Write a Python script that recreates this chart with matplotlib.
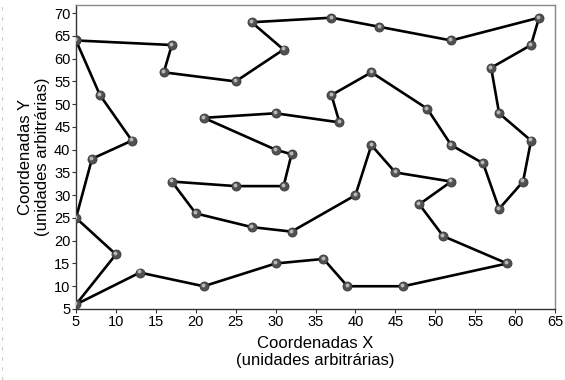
import matplotlib
matplotlib.use("Agg")
import matplotlib.pyplot as plt
import matplotlib.transforms as mtransforms
from matplotlib.lines import Line2D

plt.rcParams['font.family'] = ['Liberation Sans', 'DejaVu Sans']

# Tour through the cities, in visiting order (closed loop)
x_coords = [5, 17, 16, 25, 31, 27, 37, 43, 52, 63, 62, 57, 58, 62, 61, 58, 56, 52, 49, 42,
            37, 38, 30, 21, 30, 32, 31, 25, 17, 20, 27, 32, 40, 42, 45, 52, 48, 51, 59, 46,
            39, 36, 30, 21, 13, 5, 10, 5, 7, 12, 8, 5]
y_coords = [64, 63, 57, 55, 62, 68, 69, 67, 64, 69, 63, 58, 48, 42, 33, 27, 37, 41, 49, 57,
            52, 46, 48, 47, 40, 39, 32, 32, 33, 26, 23, 22, 30, 41, 35, 33, 28, 21, 15, 10,
            10, 16, 15, 10, 13, 6, 17, 25, 38, 42, 52, 64]

x_ticks = list(range(5, 70, 5))
y_ticks = list(range(5, 75, 5))

fig = plt.figure(figsize=(5.65, 3.80), dpi=100)
ax = fig.add_axes([76 / 565, 1 - 309 / 380, (555 - 76) / 565, (309 - 4.5) / 380])

ax.plot(x_coords, y_coords, color='black', lw=1.9, zorder=2, solid_capstyle='round')

# shaded spherical markers: dark body with a small highlight
ax.plot(x_coords, y_coords, ls='none', marker='o', ms=6.5, mfc='#505050', mec='#3a3a3a',
        mew=0.6, zorder=3)
hl = mtransforms.offset_copy(ax.transData, fig=fig, x=-0.6, y=0.8, units='points')
ax.plot(x_coords, y_coords, ls='none', marker='o', ms=2.8, mfc='#b8b8b8', mec='none',
        transform=hl, zorder=4)

ax.set_xlim(5, 65)
ax.set_ylim(5, 71.9)
ax.set_xticks(x_ticks)
ax.set_yticks(y_ticks)
ax.tick_params(axis='both', direction='out', length=3, width=0.8, labelsize=10.5, pad=1,
               color='#333333')

for side in ('left', 'bottom'):
    ax.spines[side].set_color('#333333')
    ax.spines[side].set_linewidth(1.0)
for side in ('top', 'right'):
    ax.spines[side].set_color('#888888')
    ax.spines[side].set_linewidth(1.0)

ax.set_xlabel('Coordenadas X\n(unidades arbitrárias)', fontsize=12, labelpad=5,
              linespacing=1.2)
ax.set_ylabel('Coordenadas Y\n(unidades arbitrárias)', fontsize=12, labelpad=3,
              linespacing=1.2)

# faint dashed rule along the left margin
fig.add_artist(Line2D([1.5 / 565, 1.5 / 565], [0, 1], transform=fig.transFigure,
                      color='#c8c8c8', lw=0.8, ls=(0, (3, 6))))

fig.savefig('out.png', dpi=100)
